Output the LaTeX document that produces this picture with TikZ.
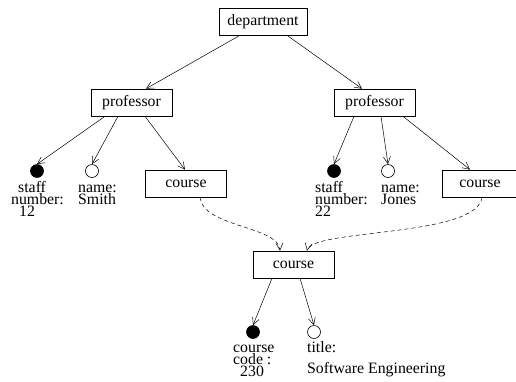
\documentclass[tikz,border=0pt]{standalone}
\usepackage{fontspec}
\setmainfont{Liberation Serif}
\usetikzlibrary{arrows.meta}
\begin{document}
\begin{tikzpicture}[x=1pt,y=-1pt,
  every node/.style={font=\fontsize{15.8}{12}\selectfont},
  entity/.style={draw,line width=0.6pt,minimum height=27pt,inner sep=0pt},
  keyattr/.style={circle,fill=black,draw,line width=0.6pt,minimum size=13pt,inner sep=0pt},
  plainattr/.style={circle,draw,line width=0.6pt,minimum size=13pt,inner sep=0pt},
  lbl/.style={anchor=base west,align=left,inner sep=0pt},
  link/.style={line width=0.5pt,-{Straight Barb[length=7pt,width=7pt]}},
  reflink/.style={link,dash pattern=on 4pt off 3pt}]
\useasboundingbox (0,0) rectangle (516,381);

% entity boxes
\node[entity,minimum width=88pt] (dept) at (263,21.5) {department};
\node[entity,minimum width=81pt] (profL) at (131.5,102.5) {professor};
\node[entity,minimum width=81pt] (profR) at (374.5,102.5) {professor};
\node[entity,minimum width=81pt] (courseL) at (186,183.5) {course};
\node[entity,minimum width=76pt] (courseR) at (480,183.5) {course};
\node[entity,minimum width=81pt] (courseB) at (293.5,264.5) {course};

% attributes
\node[keyattr] (snL) at (37,171) {};
\node[plainattr] (nmL) at (92,171) {};
\node[keyattr] (snR) at (334,171) {};
\node[plainattr] (nmR) at (388,171) {};
\node[keyattr] (cc) at (253,332) {};
\node[plainattr] (tt) at (314,332) {};

% attribute labels (anchored on the baseline of their last line)
\node[lbl] (snLt) at (11,216) {\hspace*{7pt}staff\\number:\\\hspace*{8pt}12};
\node[lbl] (nmLt) at (78,204) {name:\\Smith};
\node[lbl] (snRt) at (315,216) {staff\\number:\\22};
\node[lbl] (nmRt) at (381,204) {name:\\Jones};
\node[lbl] (cct) at (233,376) {course\\code :\\\hspace*{7pt}230};
\node[lbl] (ttt) at (307,352) {title:};
\node[lbl] (tt2) at (307,373) {Software Engineering};

% containment edges
\draw[link] ([xshift=-23pt]dept.south) -- ([xshift=14.5pt]profL.north);
\draw[link] ([xshift=24pt]dept.south) -- ([xshift=-12.5pt]profR.north);
\draw[link] ([xshift=-26.5pt]profL.south) -- (snL.north);
\draw[link] ([xshift=-13.5pt]profL.south) -- (nmL.north);
\draw[link] ([xshift=13.5pt]profL.south) -- ([xshift=-1pt]courseL.north);
\draw[link] ([xshift=-20.5pt]profR.south) -- (snR.north);
\draw[link] ([xshift=6.5pt]profR.south) -- (nmR.north);
\draw[link] ([xshift=28.5pt]profR.south) -- ([xshift=-10pt]courseR.north);
\draw[link] ([xshift=-21.5pt]courseB.south) -- (cc.north);
\draw[link] ([xshift=6.5pt]courseB.south) -- (tt.north);

% references to the shared course
\draw[reflink] ([xshift=14pt]courseL.south) .. controls +(3,30) and +(-2,-25) .. ([xshift=-13.5pt]courseB.north);
\draw[reflink] ([xshift=2pt]courseR.south) .. controls +(-5,40) and +(5,-22) .. ([xshift=13.5pt]courseB.north);
\end{tikzpicture}
\end{document}
